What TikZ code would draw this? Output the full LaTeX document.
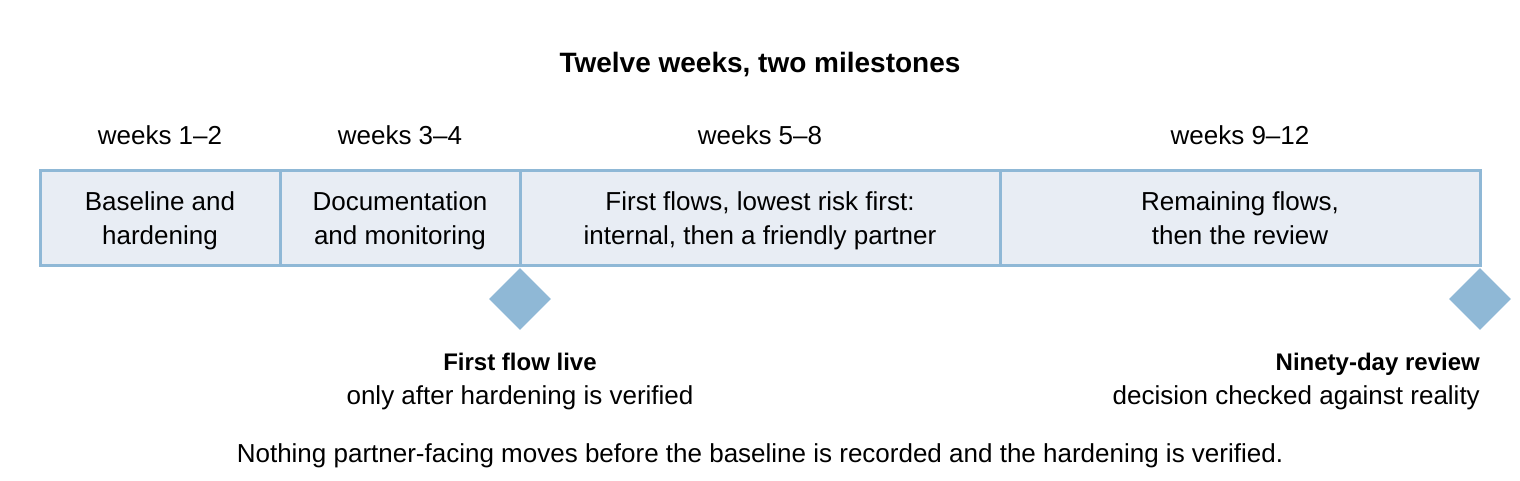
\documentclass[tikz,border=0pt]{standalone}
\usepackage{fontspec}
\setmainfont{Liberation Sans}
\usetikzlibrary{shapes.geometric}
\definecolor{edgeblue}{HTML}{8FB8D6}
\definecolor{boxfill}{HTML}{E8EDF4}
\tikzset{
  seg/.style={draw=edgeblue, fill=boxfill, line width=3pt, rectangle, minimum height=95pt, inner sep=0pt},
  segtext/.style={align=center, inner sep=0pt, anchor=base, font=\fontsize{26}{34}\selectfont},
  weeklbl/.style={font=\fontsize{26}{30}\selectfont, inner sep=0pt, anchor=base},
  milestone/.style={diamond, fill=edgeblue, minimum width=62pt, minimum height=62pt, inner sep=0pt},
  mtext/.style={font=\fontsize{26}{33.5}\selectfont, inner sep=0pt, anchor=base},
}
\begin{document}
\begin{tikzpicture}[x=1pt,y=-1pt]
\useasboundingbox (0,0) rectangle (1520,480);
\node[font=\bfseries\fontsize{28}{32}\selectfont, inner sep=0pt, anchor=base] (title) at (760,72) {Twelve weeks, two milestones};

\node[weeklbl] (w1) at (160,144) {weeks 1–2};
\node[weeklbl] (w2) at (400,144) {weeks 3–4};
\node[weeklbl] (w3) at (760,144) {weeks 5–8};
\node[weeklbl] (w4) at (1240,144) {weeks 9–12};

\node[seg, minimum width=240pt] (s1) at (160,217.5) {};
\node[seg, minimum width=240pt] (s2) at (400,217.5) {};
\node[seg, minimum width=480pt] (s3) at (760,217.5) {};
\node[seg, minimum width=480pt] (s4) at (1240,217.5) {};
\node[segtext] (l1) at (160,244) {Baseline and\\hardening};
\node[segtext] (l2) at (400,244) {Documentation\\and monitoring};
\node[segtext] (l3) at (760,244) {First flows, lowest risk first:\\internal, then a friendly partner};
\node[segtext] (l4) at (1240,244) {Remaining flows,\\then the review};

\node[milestone] (m1) at (520,299) {};
\node[milestone] (m2) at (1480,299) {};

\node[mtext, align=center] (t1) at (520,404) {{\bfseries\fontsize{24}{33.5}\selectfont First flow live}\\only after hardening is verified};
\node[mtext, align=right, anchor=base east] (t2) at (1480,404) {{\bfseries\fontsize{24}{33.5}\selectfont Ninety-day review}\\decision checked against reality};

\node[weeklbl] (note) at (760,462) {Nothing partner-facing moves before the baseline is recorded and the hardening is verified.};
\end{tikzpicture}
\end{document}
